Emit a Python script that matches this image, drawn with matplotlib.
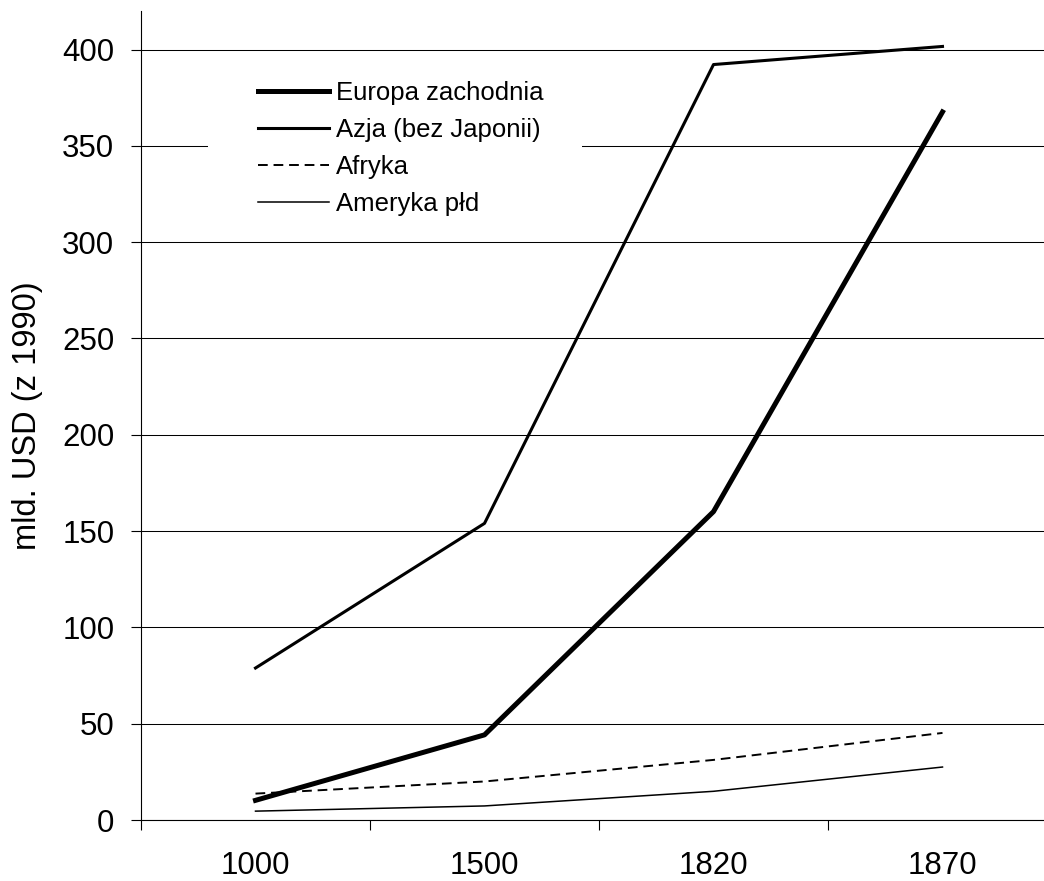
import numpy as np
import matplotlib.pyplot as plt
from matplotlib.patches import Rectangle

plt.rcParams['font.family'] = ['Liberation Sans', 'DejaVu Sans']

years = ["1000", "1500", "1820", "1870"]
europa = [10.2, 44.2, 160.1, 367.6]
azja = [78.9, 154.0, 392.2, 401.6]
afryka = [13.7, 20.0, 31.2, 45.2]
ameryka = [4.6, 7.3, 14.9, 27.5]

W, H = 1044, 881
fig = plt.figure(figsize=(W / 100, H / 100), dpi=100)
# axes run slightly past the right edge, like the clipped original sheet
ax = fig.add_axes([141 / W, 61 / H, (1057 - 141) / W, (820 - 11) / H])

x = np.arange(len(years))
ax.plot(x, europa, color="black", lw=3.6, label="Europa zachodnia", zorder=5)
ax.plot(x, azja, color="black", lw=2.2, label="Azja (bez Japonii)", zorder=5)
ax.plot(x, afryka, color="black", lw=1.4, dashes=(5, 3), label="Afryka", zorder=5)
ax.plot(x, ameryka, color="black", lw=1.1, label="Ameryka płd", zorder=5)

ax.set_xlim(-0.5, len(years) - 0.5)
ax.set_ylim(0, 420)

ax.set_yticks(np.arange(0, 401, 50))
ax.tick_params(axis="y", direction="out", length=7.2, width=0.8, pad=12, labelsize=22.5)
ax.set_xticks(x)
ax.set_xticklabels(years)
ax.tick_params(axis="x", which="major", length=0, pad=22, labelsize=22.5)
ax.set_xticks(np.arange(-0.5, len(years)), minor=True)
ax.tick_params(axis="x", which="minor", direction="out", length=7.2, width=0.8)

ax.set_axisbelow(True)
ax.yaxis.grid(True, color="black", lw=0.75)
for s in ("top", "right"):
    ax.spines[s].set_visible(False)
for s in ("left", "bottom"):
    ax.spines[s].set_linewidth(0.8)

ax.set_ylabel("mld. USD (z 1990)", fontsize=23.5, labelpad=14)

# white box behind the legend hides the grid
ax.add_patch(Rectangle((208 / W, 1 - 228 / H), (582 - 208) / W, (228 - 70) / H,
                       transform=fig.transFigure, facecolor="white",
                       edgecolor="none", zorder=3))

leg = ax.legend(loc="upper left", bbox_to_anchor=(258 / W, 1 - 81 / H),
                bbox_transform=fig.transFigure, frameon=False, fontsize=18.5,
                handlelength=2.75, handletextpad=0.28, labelspacing=0.5,
                borderpad=0, borderaxespad=0)
leg.set_zorder(6)

fig.savefig("out.png", dpi=100)
